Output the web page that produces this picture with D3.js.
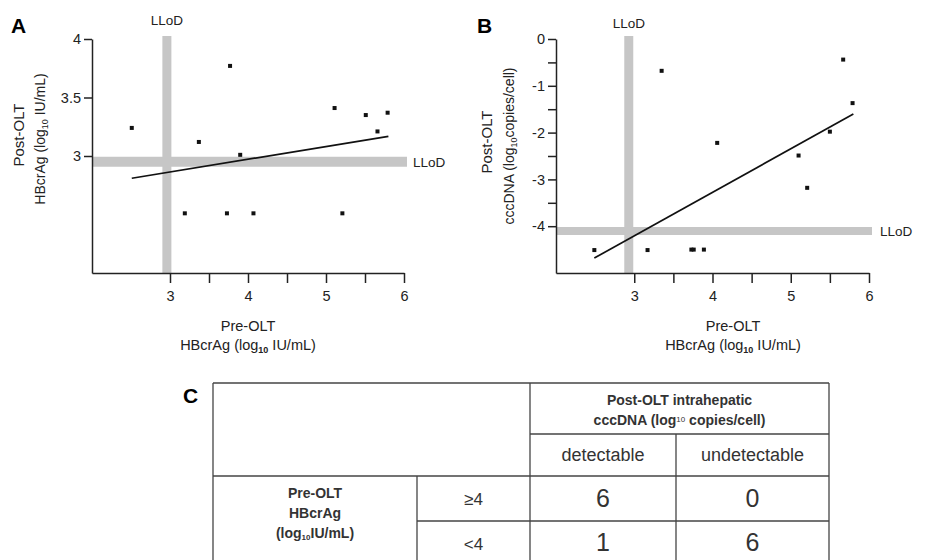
<!DOCTYPE html>
<html>
<head>
<meta charset="utf-8">
<script src="https://cdn.jsdelivr.net/npm/d3@7"></script>
<style>
  body { margin: 0; background: #fff; }
  svg { display: block; font-family: "Liberation Sans", Arial, sans-serif; }
  .axis path, .axis line { stroke: #222; stroke-width: 1.5; }
  .axis text { font-size: 14.5px; fill: #222; }
</style>
</head>
<body>
<svg id="chart" width="935" height="560"></svg>
<script>
// panel A: pre-OLT HBcrAg vs post-OLT HBcrAg
const panelAx = [2.51, 3.37, 3.77, 3.9, 3.19, 3.73, 4.07, 5.21, 5.11, 5.51, 5.79, 5.66];
const panelAy = [3.24, 3.12, 3.77, 3.01, 2.51, 2.51, 2.51, 2.51, 3.41, 3.35, 3.37, 3.21];
const panelAfit = { slope: 0.109, intercept: 2.536, from: 2.51, to: 5.8 };
const panelAlod = { x: 2.96, y: 2.95 };

// panel B: pre-OLT HBcrAg vs post-OLT cccDNA
const panelBx = [2.49, 3.17, 3.73, 3.76, 3.89, 3.35, 4.06, 5.1, 5.21, 5.5, 5.67, 5.79];
const panelBy = [-4.51, -4.51, -4.5, -4.5, -4.5, -0.68, -2.22, -2.49, -3.18, -1.98, -0.44, -1.37];
const panelBfit = { slope: 0.93, intercept: -6.996, from: 2.49, to: 5.8 };
const panelBlod = { x: 2.93, y: -4.1 };

const xTicks = [3, 3.5, 4, 4.5, 5, 5.5, 6];
const yTicksA = [3, 3.5, 4];
const yTicksB = [-4, -3.5, -3, -2.5, -2, -1.5, -1, -0.5, 0];

// panel C: 2x2 table
const tableRows = ["≥4", "<4"];
const tableCols = ["detectable", "undetectable"];
const tableCounts = [[6, 0], [1, 6]];

const svg = d3.select("#chart");
const grey = "#c6c6c6";

function scatterPanel(opt) {
  const x = d3.scaleLinear().domain([2, 6]).range(opt.xRange);
  const y = d3.scaleLinear().domain(opt.yDomain).range([273, 39]);
  const g = svg.append("g");

  // LLoD bands
  g.append("line")
    .attr("x1", x(opt.lod.x)).attr("x2", x(opt.lod.x))
    .attr("y1", 36).attr("y2", y.range()[0])
    .attr("stroke", grey).attr("stroke-width", 9);
  g.append("line")
    .attr("x1", x.range()[0]).attr("x2", x.range()[1] + 3)
    .attr("y1", y(opt.lod.y)).attr("y2", y(opt.lod.y))
    .attr("stroke", grey).attr("stroke-width", opt.bandH);

  g.append("text").attr("x", x(opt.lod.x)).attr("y", opt.lodTopY)
    .attr("text-anchor", "middle").attr("font-size", 13.5).attr("fill", "#222").text("LLoD");
  g.append("text").attr("x", x.range()[1] + opt.lodRightDx).attr("y", y(opt.lod.y) + 5)
    .attr("font-size", 13.5).attr("fill", "#222").text("LLoD");

  // axes
  g.append("g").attr("class", "axis")
    .attr("transform", `translate(0,${y.range()[0]})`)
    .call(d3.axisBottom(x).tickValues(xTicks).tickSize(10).tickSizeOuter(0)
      .tickFormat(d => Number.isInteger(d) ? String(d) : ""))
    .call(a => a.selectAll("text").attr("dy", "1.0em"));
  g.append("g").attr("class", "axis")
    .attr("transform", `translate(${x.range()[0]},0)`)
    .call(d3.axisLeft(y).tickValues(opt.yTicks).tickSize(8).tickSizeOuter(0)
      .tickFormat(opt.yFormat));

  // regression line
  const f = opt.fit;
  g.append("line")
    .attr("x1", x(f.from)).attr("y1", y(f.intercept + f.slope * f.from))
    .attr("x2", x(f.to)).attr("y2", y(f.intercept + f.slope * f.to))
    .attr("stroke", "#111").attr("stroke-width", 1.7);

  // points
  g.selectAll("rect.pt").data(opt.xs).join("rect").attr("class", "pt")
    .attr("x", (d) => x(d) - 2).attr("y", (d, i) => y(opt.ys[i]) - 2)
    .attr("width", 4).attr("height", 4).attr("fill", "#111");

  // panel letter
  svg.append("text").attr("x", opt.letterX).attr("y", 33)
    .attr("font-size", 21).attr("font-weight", "bold").text(opt.letter);

  // x title
  svg.append("text").attr("text-anchor", "middle").attr("font-size", 14.5).attr("fill", "#222")
    .attr("x", opt.xTitleX).attr("y", 331).text("Pre-OLT");
  const l2 = svg.append("text").attr("text-anchor", "middle").attr("font-size", 14.5)
    .attr("fill", "#222").attr("x", opt.xTitleX).attr("y", 350);
  l2.append("tspan").text("HBcrAg (log");
  l2.append("tspan").attr("font-size", 9).attr("dy", 3).attr("font-weight", "bold").text("10");
  l2.append("tspan").attr("dy", -3).text(" IU/mL)");

  // y title
  const yt = svg.append("g").attr("fill", "#222");
  yt.append("text").attr("transform", `translate(${opt.yTitle1[0]},${opt.yTitle1[1]}) rotate(-90)`)
    .attr("text-anchor", "middle").attr("font-size", 15).text("Post-OLT");
  const y2 = yt.append("text")
    .attr("transform", `translate(${opt.yTitle2[0]},${opt.yTitle2[1]}) rotate(-90)`)
    .attr("text-anchor", "middle").attr("font-size", 14);
  y2.append("tspan").text(opt.yName + " (log");
  y2.append("tspan").attr("font-size", 9).attr("dy", 3).text("10");
  y2.append("tspan").attr("dy", -3).text(opt.yUnit);
}

scatterPanel({
  xs: panelAx, ys: panelAy, fit: panelAfit, lod: panelAlod,
  xRange: [92, 404], yDomain: [2, 4], yTicks: yTicksA, yFormat: (d) => String(d),
  bandH: 10, lodTopY: 25, lodRightDx: 9,
  letter: "A", letterX: 11, xTitleX: 248,
  yTitle1: [24, 135], yTitle2: [45, 139], yName: "HBcrAg", yUnit: " IU/mL)",
});

scatterPanel({
  xs: panelBx, ys: panelBy, fit: panelBfit, lod: panelBlod,
  xRange: [556, 869], yDomain: [-5, 0],
  yTicks: yTicksB, yFormat: (d) => Number.isInteger(d) ? String(d) : "",
  bandH: 8, lodTopY: 28, lodRightDx: 11,
  letter: "B", letterX: 477, xTitleX: 733,
  yTitle1: [492, 142], yTitle2: [514, 146], yName: "cccDNA", yUnit: "copies/cell)",
});

// ---- panel C table ----
const colX = [213, 417, 530, 676, 829];
const rowY = [383, 434, 476, 521, 566];
const t = svg.append("g").attr("stroke", "#444").attr("stroke-width", 1.3);
t.append("line").attr("x1", colX[0]).attr("x2", colX[4]).attr("y1", rowY[0]).attr("y2", rowY[0]);
t.append("line").attr("x1", colX[2]).attr("x2", colX[4]).attr("y1", rowY[1]).attr("y2", rowY[1]);
t.append("line").attr("x1", colX[0]).attr("x2", colX[4]).attr("y1", rowY[2]).attr("y2", rowY[2]);
t.append("line").attr("x1", colX[1]).attr("x2", colX[4]).attr("y1", rowY[3]).attr("y2", rowY[3]);
t.append("line").attr("x1", colX[0]).attr("x2", colX[0]).attr("y1", rowY[0]).attr("y2", rowY[4]);
t.append("line").attr("x1", colX[1]).attr("x2", colX[1]).attr("y1", rowY[2]).attr("y2", rowY[4]);
t.append("line").attr("x1", colX[2]).attr("x2", colX[2]).attr("y1", rowY[0]).attr("y2", rowY[4]);
t.append("line").attr("x1", colX[3]).attr("x2", colX[3]).attr("y1", rowY[1]).attr("y2", rowY[4]);
t.append("line").attr("x1", colX[4]).attr("x2", colX[4]).attr("y1", rowY[0]).attr("y2", rowY[4]);

svg.append("text").attr("x", 183).attr("y", 403).attr("font-size", 21)
  .attr("font-weight", "bold").text("C");

const headMid = (colX[2] + colX[4]) / 2;
svg.append("text").attr("x", headMid).attr("y", 405).attr("text-anchor", "middle")
  .attr("font-size", 14).attr("font-weight", "bold").attr("fill", "#333")
  .text("Post-OLT intrahepatic");
const h2 = svg.append("text").attr("x", headMid).attr("y", 425).attr("text-anchor", "middle")
  .attr("font-size", 14).attr("font-weight", "bold").attr("fill", "#333");
h2.append("tspan").text("cccDNA (log");
h2.append("tspan").attr("font-size", 8).attr("font-weight", "normal").attr("dy", -3).text("10");
h2.append("tspan").attr("dy", 3).text("  copies/cell)");

svg.selectAll("text.colhead").data(tableCols).join("text").attr("class", "colhead")
  .attr("x", (d, i) => (colX[2 + i] + colX[3 + i]) / 2).attr("y", 461)
  .attr("text-anchor", "middle").attr("font-size", 18).attr("fill", "#333").text((d) => d);

const rowMid = (colX[0] + colX[1]) / 2;
["Pre-OLT", "HBcrAg"].forEach((s, i) => {
  svg.append("text").attr("x", rowMid).attr("y", 498 + i * 20).attr("text-anchor", "middle")
    .attr("font-size", 14).attr("font-weight", "bold").attr("fill", "#333").text(s);
});
const r3 = svg.append("text").attr("x", rowMid).attr("y", 538).attr("text-anchor", "middle")
  .attr("font-size", 14).attr("font-weight", "bold").attr("fill", "#333");
r3.append("tspan").text("(log");
r3.append("tspan").attr("font-size", 8).attr("dy", 2).text("10");
r3.append("tspan").attr("dy", -2).text("IU/mL)");

svg.selectAll("text.rowhead").data(tableRows).join("text").attr("class", "rowhead")
  .attr("x", (colX[1] + colX[2]) / 2).attr("y", (d, i) => (rowY[2 + i] + rowY[3 + i]) / 2 + 6)
  .attr("text-anchor", "middle").attr("font-size", 17).attr("fill", "#333").text((d) => d);

tableCounts.forEach((row, i) => {
  row.forEach((v, j) => {
    svg.append("text")
      .attr("x", (colX[2 + j] + colX[3 + j]) / 2)
      .attr("y", i === 0 ? 507 : 551)
      .attr("text-anchor", "middle").attr("font-size", 25).attr("fill", "#333")
      .text(v);
  });
});
</script>
</body>
</html>
